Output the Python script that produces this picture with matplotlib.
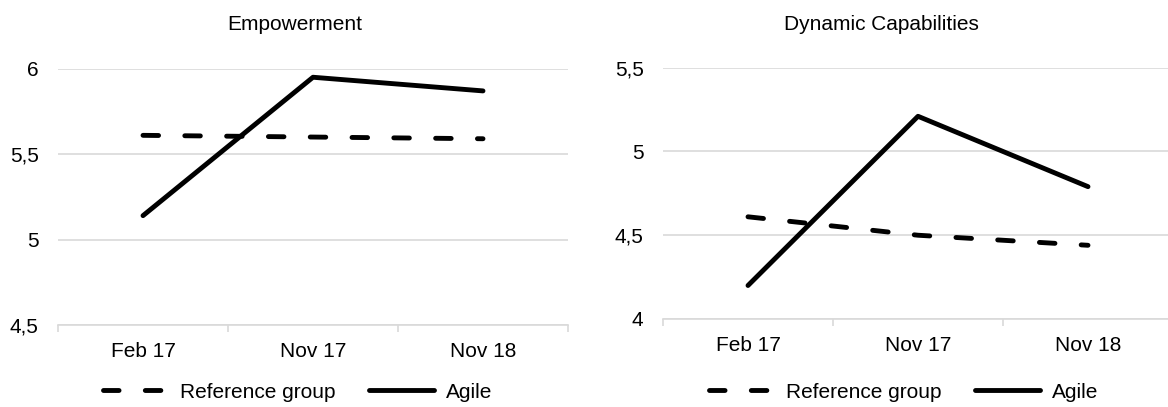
import matplotlib.pyplot as plt

plt.rcParams['font.family'] = ['Liberation Sans', 'DejaVu Sans']

periods = ['Feb 17', 'Nov 17', 'Nov 18']

emp_reference = [5.61, 5.60, 5.59]
emp_agile = [5.14, 5.95, 5.87]

dyn_reference = [4.61, 4.50, 4.44]
dyn_agile = [4.20, 5.21, 4.79]

emp_ticks = [4.5, 5, 5.5, 6]
emp_tick_labels = ['4,5', '5', '5,5', '6']
dyn_ticks = [4, 4.5, 5, 5.5]
dyn_tick_labels = ['4', '4,5', '5', '5,5']

GRID = '#d9d9d9'
FS = 15


def draw_panel(ax, reference, agile, ticks, tick_labels):
    x = range(len(periods))
    ax.plot(x, reference, color='black', lw=3.5, dashes=(3.2, 5.4),
            dash_capstyle='round', solid_capstyle='round', label='Reference group')
    ax.plot(x, agile, color='black', lw=3.5, solid_capstyle='round',
            solid_joinstyle='round', label='Agile')
    ax.set_xlim(-0.5, len(periods) - 0.5)
    ax.set_ylim(ticks[0], ticks[-1])
    ax.set_yticks(ticks)
    ax.set_yticklabels(tick_labels, fontsize=FS)
    ax.set_xticks(list(x))
    ax.set_xticklabels(periods, fontsize=FS)
    ax.set_xticks([i - 0.5 for i in range(len(periods) + 1)], minor=True)
    ax.tick_params(axis='x', which='major', length=0, pad=12)
    ax.tick_params(axis='x', which='minor', length=5, color=GRID, width=1.2)
    ax.tick_params(axis='y', length=0, pad=14)
    ax.grid(axis='y', color=GRID, lw=1.2)
    ax.set_axisbelow(True)
    for side in ['top', 'right', 'left']:
        ax.spines[side].set_visible(False)
    ax.spines['bottom'].set_color(GRID)
    ax.spines['bottom'].set_linewidth(1.2)


fig = plt.figure(figsize=(11.68, 4.07), dpi=100)

ax1 = fig.add_axes([58 / 1168, 1 - 325 / 407, 510 / 1168, (325 - 68.7) / 407])
draw_panel(ax1, emp_reference, emp_agile, emp_ticks, emp_tick_labels)

ax2 = fig.add_axes([663 / 1168, 1 - 319 / 407, 510 / 1168, (319 - 67.7) / 407])
draw_panel(ax2, dyn_reference, dyn_agile, dyn_ticks, dyn_tick_labels)

fig.text(295 / 1168, 1 - 25 / 407, 'Empowerment', ha='center', va='center', fontsize=FS)
fig.text(881 / 1168, 1 - 25 / 407, 'Dynamic Capabilities', ha='center', va='center', fontsize=FS)

for ax, cx in [(ax1, 298), (ax2, 904)]:
    handles, labels = ax.get_legend_handles_labels()
    fig.legend(handles, labels, loc='center', bbox_to_anchor=(cx / 1168, 1 - 392 / 407),
               ncol=2, frameon=False, fontsize=FS, handlelength=3.1,
               handletextpad=0.6, columnspacing=1.6)

fig.savefig('out.png', dpi=100)
